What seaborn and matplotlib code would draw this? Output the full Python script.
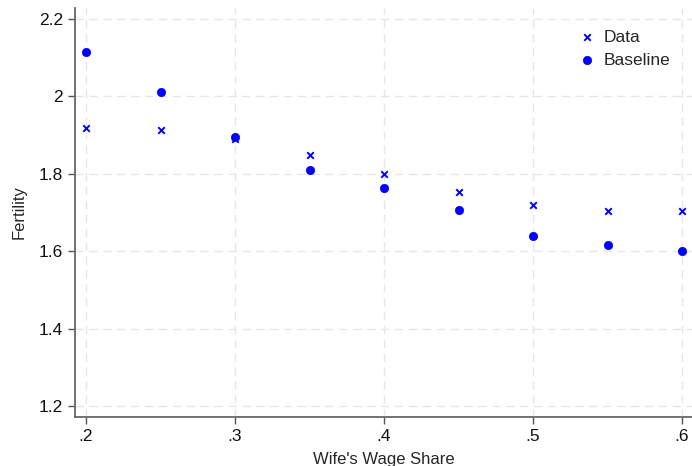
import matplotlib
matplotlib.use("Agg")
import matplotlib.pyplot as plt
import seaborn as sns

wage_share = [0.20, 0.25, 0.30, 0.35, 0.40, 0.45, 0.50, 0.55, 0.60]
data_fert = [1.918, 1.913, 1.890, 1.849, 1.800, 1.753, 1.719, 1.704, 1.704]
baseline_fert = [2.115, 2.011, 1.895, 1.810, 1.763, 1.706, 1.639, 1.616, 1.600]

sns.set_style("white")
plt.rcParams["font.family"] = ["Liberation Sans", "DejaVu Sans"]

fig = plt.figure(figsize=(6.92, 4.66), dpi=100)
ax = fig.add_axes([75 / 692, 1 - 417 / 466, 617 / 692, 409 / 466])

# Data: small crosses, Baseline: filled circles
sns.scatterplot(x=wage_share, y=data_fert, marker="x", color="#0000ff",
                s=22, linewidth=1.4, label="Data", ax=ax)
sns.scatterplot(x=wage_share, y=baseline_fert, marker="o", color="#0000ff",
                s=36, edgecolor="#0000ff", linewidth=0.5, label="Baseline", ax=ax)

ax.set_xlim(0.1926, 0.6067)
ax.set_ylim(1.1716, 2.228)
ax.set_xticks([0.2, 0.3, 0.4, 0.5, 0.6])
ax.set_xticklabels([".2", ".3", ".4", ".5", ".6"])
ax.set_yticks([1.2, 1.4, 1.6, 1.8, 2.0, 2.2])
ax.set_yticklabels(["1.2", "1.4", "1.6", "1.8", "2", "2.2"])
ax.tick_params(axis="both", direction="out", length=5, width=1, color="#555555",
               labelsize=12.5, labelcolor="#111111", left=True, bottom=True)
ax.grid(True, linestyle=(0, (6, 4)), color="#e6e6e6", linewidth=1)
ax.set_axisbelow(True)
for side in ["top", "right"]:
    ax.spines[side].set_visible(False)
for side in ["left", "bottom"]:
    ax.spines[side].set_color("#666666")
    ax.spines[side].set_linewidth(1.3)

ax.set_xlabel("Wife's Wage Share", fontsize=12, labelpad=6)
ax.set_ylabel("Fertility", fontsize=12, labelpad=9)

ax.legend(loc="upper right", bbox_to_anchor=(0.99, 0.985), frameon=False,
          fontsize=12.5, handlelength=1.0, handletextpad=0.45, labelspacing=0.45)

fig.savefig("out.png", dpi=100)
